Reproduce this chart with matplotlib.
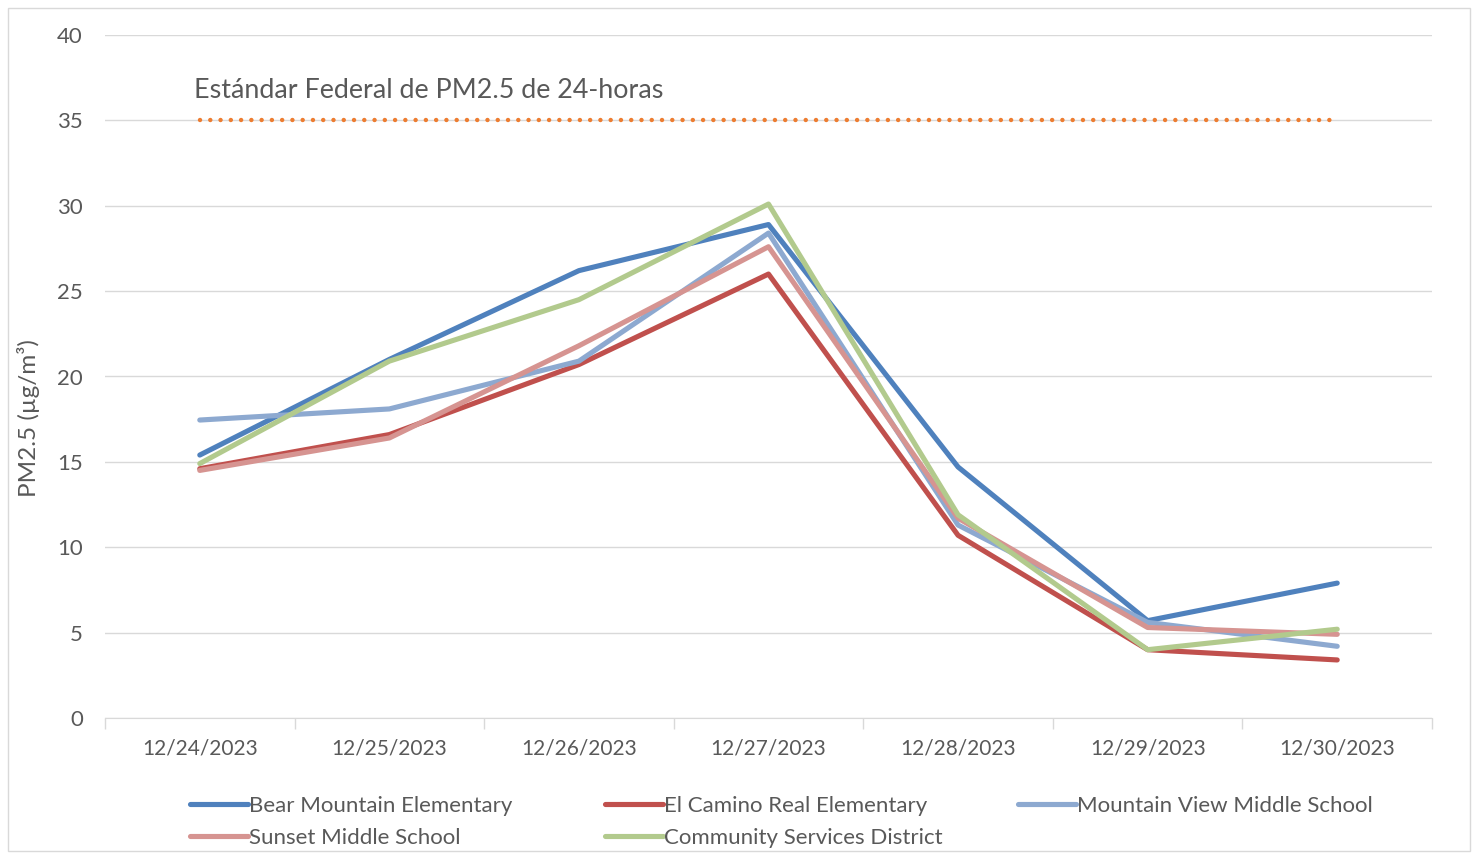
import matplotlib.pyplot as plt
from matplotlib.patches import Rectangle

plt.rcParams['font.family'] = ['Lato', 'DejaVu Sans']

# datos
fechas = ['12/24/2023', '12/25/2023', '12/26/2023', '12/27/2023',
          '12/28/2023', '12/29/2023', '12/30/2023']
bear_mountain = [15.4, 21.0, 26.2, 28.9, 14.7, 5.7, 7.9]
el_camino = [14.6, 16.6, 20.7, 26.0, 10.7, 4.0, 3.4]
mountain_view = [17.45, 18.1, 20.9, 28.4, 11.3, 5.6, 4.2]
sunset = [14.5, 16.4, 21.8, 27.6, 11.7, 5.3, 4.9]
community = [14.9, 20.9, 24.5, 30.1, 11.9, 4.0, 5.2]
estandar = [35] * len(fechas)

series = [
    ('Bear Mountain Elementary', bear_mountain, '#4F81BD'),
    ('El Camino Real Elementary', el_camino, '#C0504D'),
    ('Mountain View Middle School', mountain_view, '#8DA9D0'),
    ('Sunset Middle School', sunset, '#D69491'),
    ('Community Services District', community, '#B2CA8D'),
]

gris = '#595959'
fig = plt.figure(figsize=(14.78, 8.55), dpi=100)
ax = fig.add_axes([105 / 1478, 1 - 718 / 855, (1432 - 105) / 1478, (718 - 35) / 855])

# borde del area del grafico
fig.patches.append(Rectangle((8 / 1478, 4 / 855), 1462 / 1478, 843 / 855,
                             transform=fig.transFigure, fill=False,
                             edgecolor='#D9D9D9', lw=1))

x = list(range(len(fechas)))
ax.plot(x, estandar, color='#ED7D31', lw=3.2, linestyle=(0, (0.01, 2.3)),
        dash_capstyle='round')
lineas = []
for nombre, vals, color in series:
    l, = ax.plot(x, vals, color=color, lw=3.7, label=nombre, solid_capstyle='round')
    lineas.append(l)

ax.text(-0.03, 36.75, 'Estándar Federal de PM2.5 de 24-horas', fontsize=19.4,
        color=gris, va='center', ha='left')

ax.set_xlim(-0.5, len(fechas) - 0.5)
ax.set_ylim(0, 40)
ax.set_yticks(range(0, 41, 5))
ax.set_xticks(x)
ax.set_xticklabels(fechas)
ax.set_xticks([i - 0.5 for i in range(len(fechas) + 1)], minor=True)
ax.tick_params(axis='x', which='major', length=0, pad=15, labelsize=15, labelcolor=gris)
ax.tick_params(axis='x', which='minor', length=8, color='#D9D9D9', width=1)
ax.tick_params(axis='y', length=0, pad=16, labelsize=16, labelcolor=gris)
ax.grid(axis='y', color='#D9D9D9', lw=1)
ax.set_axisbelow(True)
for s in ['top', 'right', 'left']:
    ax.spines[s].set_visible(False)
ax.spines['bottom'].set_color('#D9D9D9')

ax.set_ylabel('PM2.5 (µg/m³)', fontsize=17.5, color=gris)
ax.yaxis.set_label_coords(-0.049, 0.439)

# leyenda en tres columnas, cada una colocada por separado
columnas = [([0, 3], 190), ([1, 4], 605), ([2], 1018)]
for idx, xpix in columnas:
    leg = fig.legend([lineas[i] for i in idx], [series[i][0] for i in idx],
                     loc='upper left', bbox_to_anchor=(xpix / 1478, 59 / 855),
                     frameon=False, fontsize=16, handlelength=2.6, handletextpad=0.05,
                     labelspacing=0.52, borderpad=0, borderaxespad=0)
    for t in leg.get_texts():
        t.set_color(gris)

fig.savefig('out.png', dpi=100)
